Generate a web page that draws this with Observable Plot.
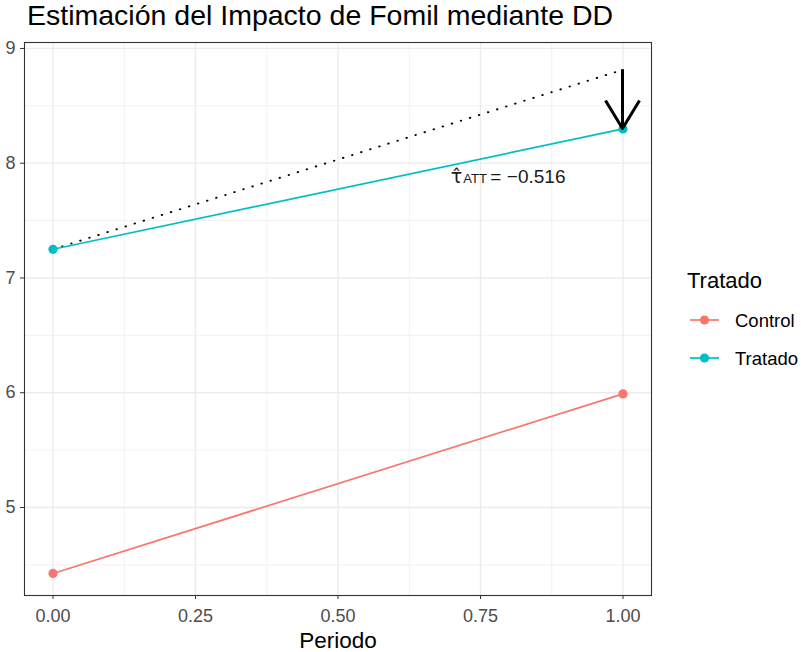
<!DOCTYPE html>
<html><head><meta charset="utf-8">
<script src="https://cdn.jsdelivr.net/npm/d3@7"></script>
<script src="https://cdn.jsdelivr.net/npm/@observablehq/plot@0.6"></script>
<style>
body{margin:0;background:#fff;font-family:"Liberation Sans",Arial,sans-serif;}
#wrap{position:relative;width:801px;height:652px;overflow:hidden;background:#fff;}
#chart{position:absolute;left:0;top:0;}
#overlay{position:absolute;left:0;top:0;pointer-events:none;}
</style></head><body>
<div id="wrap"><div id="chart"></div><svg id="overlay" width="801" height="652"></svg></div>
<script>
// ---- data ----
const titulo = "Estimación del Impacto de Fomil mediante DD";
const periodo = [0, 1];
const control = [4.425, 5.99];
const tratado = [7.25, 8.299];
const grupos = ["Control", "Tratado"];
const colores = ["#F8766D", "#00BFC4"];
const xTicks = [0, 0.25, 0.5, 0.75, 1];
const xMinor = [0.125, 0.375, 0.625, 0.875];
const yTicks = [5, 6, 7, 8, 9];
const yMinor = [4.5, 5.5, 6.5, 7.5, 8.5];
const attTexto = "\u22120.516";
const attPos = [0.698, 7.884];

// ---- derived tables ----
const filas = grupos.flatMap((g, gi) =>
  periodo.map((p, i) => ({grupo: g, periodo: p, valor: (gi ? tratado : control)[i]})));
const contrafactual = tratado[0] + (control[1] - control[0]);
const cfFilas = [{periodo: periodo[0], valor: tratado[0]}, {periodo: periodo[1], valor: contrafactual}];
const anot = [{x: attPos[0], y: attPos[1]}];

const font = "Liberation Sans, Arial, sans-serif";

const chart = Plot.plot({
  width: 801, height: 652,
  marginLeft: 24, marginRight: 150, marginTop: 42, marginBottom: 57,
  style: {fontFamily: font, background: "transparent", fontSize: "18px"},
  x: {domain: [-0.05, 1.05]},
  y: {domain: [4.233, 9.052]},
  color: {domain: grupos, range: colores},
  marks: [
    Plot.ruleX(xMinor, {stroke: "#EBEBEB", strokeWidth: 0.7}),
    Plot.ruleY(yMinor, {stroke: "#EBEBEB", strokeWidth: 0.7}),
    Plot.ruleX(xTicks, {stroke: "#EBEBEB", strokeWidth: 1.3}),
    Plot.ruleY(yTicks, {stroke: "#EBEBEB", strokeWidth: 1.3}),
    Plot.line(cfFilas, {x: "periodo", y: "valor", stroke: "black", strokeWidth: 1.9, strokeDasharray: "0.5 9", strokeLinecap: "round"}),
    Plot.line(filas, {x: "periodo", y: "valor", z: "grupo", stroke: "grupo", strokeWidth: 1.7}),
    Plot.dot(filas, {x: "periodo", y: "valor", fill: "grupo", r: 4.6}),
    (index, scales) => {
      const x = scales.x(periodo[1]);
      const yA = scales.y(contrafactual);
      const yB = scales.y(tratado[1]);
      const g = d3.create("svg:g").attr("stroke", "black").attr("stroke-width", 3).attr("fill", "none")
        .attr("stroke-linejoin", "round").attr("stroke-linecap", "butt");
      g.append("path").attr("d", `M${x},${yA}L${x},${yB}`);
      g.append("path").attr("d", `M${x - 17},${yB - 28}L${x},${yB}L${x + 17},${yB - 28}`);
      return g.node();
    },
    Plot.text(anot, {x: "x", y: "y", text: () => "\u03C4\u0302", textAnchor: "start", lineAnchor: "middle", fontSize: 19, fill: "#1a1a1a", fontFamily: "DejaVu Sans, Liberation Sans, sans-serif"}),
    Plot.text(anot, {x: "x", y: "y", text: () => "ATT", textAnchor: "start", lineAnchor: "middle", fontSize: 13, dx: 12.5, dy: 2.5, fill: "#1a1a1a"}),
    Plot.text(anot, {x: "x", y: "y", text: () => "=", textAnchor: "start", lineAnchor: "middle", fontSize: 19, dx: 39.5, fill: "#1a1a1a"}),
    Plot.text(anot, {x: "x", y: "y", text: () => attTexto, textAnchor: "start", lineAnchor: "middle", fontSize: 19, dx: 56, fill: "#1a1a1a"}),
    Plot.frame({stroke: "#333333", strokeWidth: 1.1}),
    Plot.axisX({ticks: xTicks, tickFormat: d3.format(".2f"), tickSize: 4, tickPadding: 10, fontSize: 18, label: null, color: "#333333", fill: "#4D4D4D"}),
    Plot.axisY({ticks: yTicks, tickFormat: d3.format("d"), tickSize: 4, tickPadding: 5, fontSize: 18, label: null, color: "#333333", fill: "#4D4D4D"}),
    Plot.text(["Periodo"], {frameAnchor: "bottom", lineAnchor: "middle", dy: 45, fontSize: 22.5, fill: "black"})
  ]
});
document.getElementById("chart").appendChild(chart);

// ---- title and legend ----
const ov = d3.select("#overlay").style("font-family", font);
ov.append("text").attr("x", 27).attr("y", 25).attr("font-size", 28.5).attr("fill", "black").text(titulo);
ov.append("text").attr("x", 687).attr("y", 288).attr("font-size", 22).attr("fill", "black").text("Tratado");
grupos.forEach((g, i) => {
  const cy = 320 + i * 38;
  ov.append("line").attr("x1", 690).attr("x2", 719).attr("y1", cy).attr("y2", cy)
    .attr("stroke", colores[i]).attr("stroke-width", 1.7);
  ov.append("circle").attr("cx", 704.5).attr("cy", cy).attr("r", 4.6).attr("fill", colores[i]);
  ov.append("text").attr("x", 735).attr("y", cy).attr("dy", "0.36em").attr("font-size", 18.5)
    .attr("fill", "black").text(g);
});
</script>
</body></html>
